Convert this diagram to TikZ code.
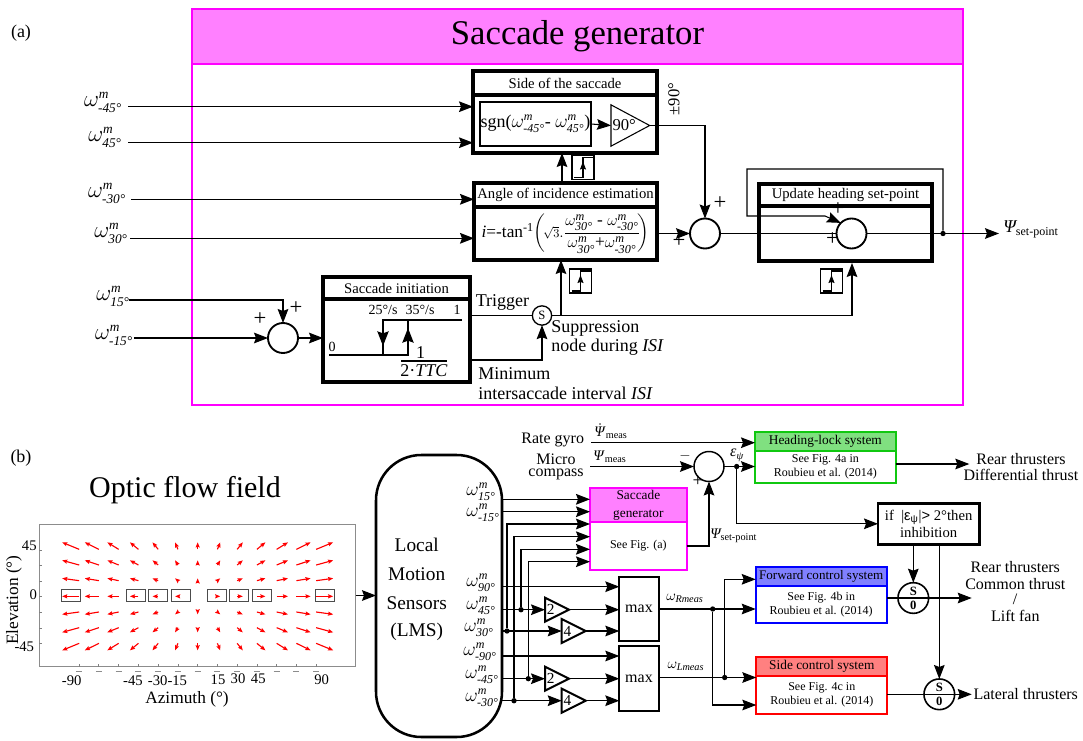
\documentclass[tikz,border=0pt]{standalone}
\usepackage{amsmath}
\usepackage{fontspec}
\setmainfont{Liberation Serif}
\setsansfont{Liberation Sans}
\usetikzlibrary{arrows.meta,shapes.geometric}
\DeclareMathSizes{16}{16}{10}{8}
\DeclareMathSizes{14}{14}{9}{7}
\DeclareMathSizes{13.5}{13.5}{9}{7}
\definecolor{framepink}{HTML}{FF00FF}
\definecolor{magentaband}{HTML}{FF80FF}
\definecolor{greenline}{HTML}{10C810}
\definecolor{greenband}{HTML}{80E080}
\definecolor{blueband}{HTML}{8080FF}
\definecolor{redband}{HTML}{FF8080}
\newcommand{\fs}[1]{\fontsize{#1}{#1}\selectfont}
\newcommand{\wm}[1]{$\omega^{\textit{m}}_{\textit{#1}}$}
\tikzset{
  cbox/.style n args={4}{at={({(#1+#3)/2},{(#2+#4)/2})},minimum width={(#3-(#1))*0.75pt},minimum height={(#4-(#2))*0.75pt}},
  sig/.style={line width=0.8pt,-{Stealth[length=10.5pt,width=8pt,inset=1.5pt]}},
  wire/.style={line width=0.8pt},
  fitbox/.style={inner sep=0pt,outer sep=0pt,draw},
  blockbox/.style={fitbox,line width=2.4pt,font=\fs{11}},
  framebox/.style={fitbox,line width=2.2pt,draw=framepink},
  greenbox/.style={fitbox,line width=1.6pt,draw=greenline,font=\fs{9}\linespread{1.17}\selectfont,align=center},
  bluebox/.style={fitbox,line width=1.6pt,draw=blue,font=\fs{9}\linespread{1.17}\selectfont,align=center},
  redbox/.style={fitbox,line width=1.6pt,draw=red,font=\fs{9}\linespread{1.17}\selectfont,align=center},
  magbox/.style={fitbox,line width=1.6pt,draw=framepink,font=\fs{9},align=center},
  sumnode/.style={circle,draw,line width=1.4pt,inner sep=0pt,outer sep=0pt,minimum size=22.5pt},
  selnode/.style={circle,draw,line width=1.2pt,inner sep=0pt,outer sep=0pt,minimum size=23pt},
  dotnode/.style={circle,fill,inner sep=0pt,minimum size=4pt},
  gainnode/.style={isosceles triangle,isosceles triangle stretches,shape border rotate=0,draw,
    inner sep=0pt,outer sep=0pt,anchor=lower side},
  lab/.style={inner sep=0pt,font=\fs{13.5}},
  omlab/.style={inner sep=0pt,font=\fs{16}},
  omsmall/.style={inner sep=0pt,font=\fs{14}},
  plusmark/.style={inner sep=0pt,font=\fs{17}},
  ticklab/.style={inner sep=0pt,font=\fs{11}},
  flowarrow/.style={red,line width=0.85pt,-{Stealth[length=3.8pt,width=3pt,inset=0.5pt]}},
  stepicon/.pic={
    \draw[line width=1pt] (-11,-12) rectangle (11,12);
    \draw[line width=0.8pt] (-9,10) -- (0,10) -- (0,-10) -- (10,-10);
    \draw[line width=0.8pt,-{Stealth[length=6pt,width=4.5pt,inset=0.8pt]}] (0,6) -- (0,-6);
  }
}
\begin{document}
\begin{tikzpicture}[x=0.75pt,y=-0.75pt]
  \useasboundingbox (0,0) rectangle (1083,740);
  \node[lab] (tagA) at (21,33) {(a)};
  \node[lab] (tagB) at (21,458) {(b)};

  \node[framebox,cbox={192}{9}{963}{405}] (sacframe) {};
  \node[framebox,fill=magentaband,font=\fs{26},cbox={192}{9}{963}{64}] (sachead) {Saccade generator};

  \node[blockbox,cbox={473}{71}{657}{95}] (sidehead) {Side of the saccade};
  \node[blockbox,cbox={473}{95}{657}{153}] (sidebody) {};
  \node[fitbox,line width=1.3pt,font=\fs{13.5},cbox={480}{102}{591}{146}] (sgnbox) {sgn(\wm{-45°}- \wm{45°})};
  \node[gainnode,minimum width=31pt,minimum height=29pt,line width=0.8pt,font=\fs{12.5}] (gainside) at (611,125.5) {90°};
  \node[blockbox,cbox={474}{183}{657}{207}] (anglehead) {Angle of incidence estimation};
  \node[blockbox,cbox={474}{207}{657}{260},font=\fs{13}] (anglebody)
    {\textit{i}=-tan$^{\text{-1}}$$\left(\!\scriptstyle\sqrt{3}\textstyle.\dfrac{\omega^{\textit{m}}_{\textit{30°}}\text{ - }\omega^{\textit{m}}_{\textit{-30°}}}{\omega^{\textit{m}}_{\textit{30°}}\text{+}\omega^{\textit{m}}_{\textit{-30°}}}\!\right)$};
  \node[blockbox,cbox={323}{277}{470}{299}] (inithead) {Saccade initiation};
  \node[blockbox,cbox={323}{299}{470}{382}] (initbody) {};
  \node[blockbox,cbox={759}{184}{932}{206}] (updhead) {Update heading set-point};
  \node[blockbox,cbox={759}{206}{932}{261}] (updbody) {};

  \node[omlab] (omA) at (103,102) {\wm{-45°}};
  \node[omlab] (omB) at (105,137) {\wm{45°}};
  \node[omlab] (omC) at (107,193) {\wm{-30°}};
  \node[omlab] (omD) at (111,233) {\wm{30°}};
  \node[omlab] (omE) at (113,296) {\wm{15°}};
  \node[omlab] (omF) at (114,335) {\wm{-15°}};
  \coordinate (inA) at (128,106.7);
  \coordinate (inB) at (128,142.7);
  \coordinate (inC) at (131,199.3);
  \coordinate (inD) at (130,238.3);
  \coordinate (inE) at (129,300);
  \coordinate (inF) at (134,338);
  \draw[sig] (inA) -- (inA -| sidebody.west);
  \draw[sig] (inB) -- (inB -| sidebody.west);
  \draw[sig] (inC) -- (inC -| anglehead.west);
  \draw[sig] (inD) -- (inD -| anglebody.west);

  \node[sumnode] (sumI) at (283,338) {};
  \draw[sig] (inE) -| (sumI.north);
  \draw[sig] (inF) -- (sumI.west);
  \draw[sig] (sumI.east) -- (sumI.east -| initbody.west);
  \node[plusmark] (plusIa) at (296,308) {+};
  \node[plusmark] (plusIb) at (260,319) {+};

  \coordinate (hyLow) at (329,355);
  \coordinate (hyLowEnd) at (408,355);
  \coordinate (hyHigh) at (383,320);
  \coordinate (hyHighEnd) at (462,320);
  \coordinate (hyTop) at (408,320);
  \coordinate (hyBot) at (383,355);
  \draw[line width=1pt] (hyLow) -- (hyLowEnd) -- (hyTop);
  \draw[line width=1pt] (hyHighEnd) -- (hyHigh) -- (hyBot);
  \draw[line width=1pt,-{Stealth[length=11pt,width=8.5pt,inset=1.5pt]}] (hyHigh) -- (383,346);
  \draw[line width=1pt,-{Stealth[length=11pt,width=8.5pt,inset=1.5pt]}] (hyLowEnd) -- (408,328);
  \node[inner sep=0pt,font=\fs{10.5}] (lowth) at (383,310) {25°/s};
  \node[inner sep=0pt,font=\fs{10.5}] (highth) at (420,310) {35°/s};
  \node[inner sep=0pt,font=\fs{10.5}] (hyone) at (457,310) {1};
  \node[inner sep=0pt,font=\fs{10.5}] (hyzero) at (332,347) {0};
  \node[lab] (fracnum) at (420.5,353) {1};
  \coordinate (fracL) at (401,361);
  \coordinate (fracR) at (447,361);
  \draw[wire] (fracL) -- (fracR);
  \node[lab] (fracden) at (424,371) {2·\textit{TTC}};

  \node[circle,draw,line width=1pt,inner sep=0pt,outer sep=0pt,minimum size=14.5pt,font=\fs{9.5}] (trigS) at (542,315.5) {S};
  \coordinate (isiL) at (470,360);
  \draw[wire] (initbody.east |- trigS) -- (trigS.west);
  \draw[sig] (isiL) -| (trigS.south);
  \node[lab] (trigger) at (502.5,302) {Trigger};
  \node[lab,anchor=west] (suppr) at (551,328) {Suppression};
  \node[lab,anchor=west] (suppn) at (551,347) {node during \textit{ISI}};
  \node[lab,anchor=west] (minim) at (478,374) {Minimum};
  \node[lab,anchor=west] (isitxt) at (478,393) {intersaccade interval \textit{ISI}};

  \coordinate (anglin) at (561,260);
  \coordinate (updin) at (852,263);
  \coordinate (upA) at (562,183);
  \draw[sig] (anglin |- trigS) -- (anglin);
  \draw[sig] (trigS.east) -| (updin);
  \draw[sig] (upA) -- (upA |- sidebody.south);
  \pic (stepA) at (583,167.5) {stepicon};
  \pic (stepB) at (580.5,281) {stepicon};
  \pic (stepC) at (831.5,281) {stepicon};

  \draw[sig] (sgnbox.east) -- (gainside.lower side);
  \node[sumnode] (sumA) at (705,233.5) {};
  \node[sumnode] (sumB) at (851.5,233.5) {};
  \draw[sig] (gainside.apex) -| (sumA.north);
  \draw[sig] (anglebody.east |- sumA) -- (sumA.west);
  \draw[wire] (sumA.east) -- (sumB.west);
  \coordinate (psiout) at (999,233.5);
  \node[dotnode] (fbdot) at (943,233.5) {};
  \draw[sig] (sumB.east) -- (psiout);
  \coordinate (fbtl) at (747,169);
  \coordinate (fbbl) at (747,216);
  \coordinate (fbbr) at (825,216);
  \draw[sig] (fbdot) |- (fbtl) -- (fbbl) -- (fbbr) -- (sumB.north west);
  \node[plusmark] (plusAa) at (720,203) {+};
  \node[plusmark] (plusAb) at (679,241.5) {+};
  \node[plusmark] (plusBa) at (838,209) {+};
  \node[plusmark] (plusBb) at (832.5,239) {+};
  \node[inner sep=0pt,font=\fs{12.5},rotate=90] (plusninety) at (674,99) {±90°};
  \node[anchor=west,inner sep=0pt,font=\fs{13.5}] (psisp) at (1003,229) {$\textit{Ψ}_{\text{set-point}}$};

  \node[inner sep=0pt,font=\fs{22.5}] (flowtitle) at (185,490) {Optic flow field};
  \node[fitbox,draw=black!45,line width=0.7pt,cbox={39.3}{524.3}{355.7}{666.7}] (flowplot) {};
  \foreach \i in {-6,...,6} {
    \foreach \j in {-3,...,3} {
      \pgfmathtruncatemacro{\nz}{abs(\i)+abs(\j)}
      \ifnum\nz>0
        \draw[flowarrow] ({(593+63.5*\i)/3-1.42*\i},{470+(379-50.5*\j)/3+1.17*\j}) -- ({(593+63.5*\i)/3+1.42*\i},{470+(379-50.5*\j)/3-1.17*\j});
      \fi
    }
  }
  \foreach \xa/\xb in {184/242,380/437,446/503,514/571,622/679,689/746,757/813,947/1003}
    \draw[black!70,line width=0.6pt] ({\xa/3},589.5) rectangle ({\xb/3},601);
  \foreach \j in {0,...,6}
    \draw[black!50,line width=0.5pt] (39.3,{470+(240+46.7*\j)/3}) -- (42,{470+(240+46.7*\j)/3});
  \foreach \i in {0,...,12} {
    \draw[black!50,line width=0.5pt] ({(237+59.3*\i)/3},666.7) -- ({(237+59.3*\i)/3},664);
    \draw[black!45,line width=0.5pt] ({(237+59.3*\i)/3-3},671.5) -- ({(237+59.3*\i)/3+3},671.5);
  }
  \foreach \xpos/\ypos/\txt/\nm in {71.7/680.7/-90/a,133/680.7/-45/b,157.7/680.7/-30/c,177.3/680.7/-15/d,218/679.3/15/e,238/678.3/30/f,258.3/678.3/45/g,321.7/680/90/h,29.3/545.7/45/i,33.3/594.3/0/j,24.3/646.7/-45/k}
    \node[ticklab] (tick\nm) at (\xpos,\ypos) {\txt};
  \node[inner sep=0pt,font=\fs{13},rotate=90] (elev) at (14,600) {Elevation (°)};
  \node[inner sep=0pt,font=\fs{13}] (azim) at (187,699) {Azimuth (°)};

  \node[fitbox,line width=1.9pt,rounded corners=34pt,cbox={376}{455}{502}{737}] (lms) {};
  \draw[sig] (flowplot.east) -- (flowplot.east -| lms.west);
  \node[inner sep=0pt,font=\fs{14.5}] (lmsa) at (416.7,545) {Local};
  \node[inner sep=0pt,font=\fs{14.5}] (lmsb) at (416.7,574) {Motion};
  \node[inner sep=0pt,font=\fs{14.5}] (lmsc) at (416.7,603) {Sensors};
  \node[inner sep=0pt,font=\fs{14.5}] (lmsd) at (416.7,632) {(LMS)};
  \node[omsmall] (omg) at (481,491.5) {\wm{15°}};
  \node[omsmall] (omh) at (483,513) {\wm{-15°}};
  \node[omsmall] (omi) at (481,583) {\wm{90°}};
  \node[omsmall] (omj) at (481,606) {\wm{45°}};
  \node[omsmall] (omk) at (479,628) {\wm{30°}};
  \node[omsmall] (oml) at (480,652) {\wm{-90°}};
  \node[omsmall] (omm) at (482,675) {\wm{-45°}};
  \node[omsmall] (omn) at (482,698) {\wm{-30°}};

  \node[magbox,fill=magentaband,font=\fontsize{10}{13.5}\selectfont,cbox={590}{488.3}{686.7}{521.7}] (gensmallhead) {Saccade\\generator};
  \node[magbox,cbox={590}{521.7}{686.7}{570}] (gensmallbody) {See Fig. (a)};
  \coordinate (sgin1) at (590,499.3);
  \coordinate (sgin2) at (590,511.7);
  \coordinate (sgin3) at (590,524);
  \coordinate (sgin4) at (590,536.7);
  \coordinate (sgin5) at (590,549.3);
  \coordinate (sgin6) at (590,561.7);
  \draw[sig] (lms.east |- sgin1) -- (sgin1);
  \draw[sig] (lms.east |- sgin2) -- (sgin2);

  \node[fitbox,line width=1.7pt,font=\fs{12},cbox={619.3}{576.7}{658.7}{641.3}] (maxR) {max};
  \node[fitbox,line width=1.7pt,font=\fs{12},cbox={619.3}{646}{658.7}{711}] (maxL) {max};
  \node[gainnode,minimum width=18pt,minimum height=18pt,line width=1.5pt,font=\fs{11.5}] (gainRa) at (545,609.7) {2};
  \node[gainnode,minimum width=18pt,minimum height=18pt,line width=1.5pt,font=\fs{11.5}] (gainRb) at (561.7,631) {4};
  \node[gainnode,minimum width=18pt,minimum height=18pt,line width=1.5pt,font=\fs{11.5}] (gainLa) at (545,678.7) {2};
  \node[gainnode,minimum width=18pt,minimum height=18pt,line width=1.5pt,font=\fs{11.5}] (gainLb) at (561.7,700.7) {4};
  \coordinate (inR) at (619.3,586.7);
  \coordinate (inL) at (619.3,656);
  \draw[sig] (lms.east |- inR) -- (inR);
  \draw[sig] (lms.east |- inL) -- (inL);
  \draw[sig] (lms.east |- gainRa.lower side) -- (gainRa.lower side);
  \draw[sig] (lms.east |- gainRb.lower side) -- (gainRb.lower side);
  \draw[sig] (lms.east |- gainLa.lower side) -- (gainLa.lower side);
  \draw[sig] (lms.east |- gainLb.lower side) -- (gainLb.lower side);
  \draw[sig] (gainRa.apex) -- (gainRa.apex -| maxR.west);
  \draw[sig] (gainRb.apex) -- (gainRb.apex -| maxR.west);
  \draw[sig] (gainLa.apex) -- (gainLa.apex -| maxL.west);
  \draw[sig] (gainLb.apex) -- (gainLb.apex -| maxL.west);
  \node[dotnode] (dotA) at (507,631) {};
  \node[dotnode] (dotB) at (514,700.7) {};
  \node[dotnode] (dotC) at (521,609.7) {};
  \node[dotnode] (dotD) at (528.3,678.7) {};
  \draw[sig] (dotA) |- (sgin3);
  \draw[sig] (dotB) |- (sgin4);
  \draw[sig] (dotC) |- (sgin5);
  \draw[sig] (dotD) |- (sgin6);

  \node[inner sep=0pt,font=\fs{12}] (rategyro) at (552.7,440) {Rate gyro};
  \node[inner sep=0pt,font=\fontsize{12}{9.5}\selectfont,align=center] (microcomp) at (556,467) {Micro\\compass};
  \node[inner sep=0pt,font=\fs{11}] (psidot) at (611,431) {$\dot{\text{\textit{Ψ}}}_{\text{meas}}$};
  \node[inner sep=0pt,font=\fs{11}] (psimeas) at (610,457) {$\text{\textit{Ψ}}_{\text{meas}}$};
  \node[sumnode,line width=1.1pt] (sumC) at (709,466.5) {};
  \node[greenbox,fill=greenband,font=\fs{10},cbox={755}{432.3}{895.7}{451}] (headhead) {Heading-lock system};
  \node[greenbox,cbox={755}{451}{895.7}{482.7}] (headbody) {See Fig. 4a in\\Roubieu et al. (2014)};
  \coordinate (gyroL) at (591,442.7);
  \coordinate (compL) at (590,466.5);
  \draw[sig] (gyroL) -- (gyroL -| headhead.west);
  \draw[sig] (compL) -- (sumC.west);
  \node[dotnode] (errdot) at (736.7,466.5) {};
  \draw[sig] (sumC.east) -- (sumC.east -| headbody.west);
  \node[inner sep=0pt,font=\fs{11}] (minusC) at (685,456) {$-$};
  \node[inner sep=0pt,font=\fs{14}] (plusC) at (698,481) {+};
  \node[inner sep=0pt,font=\fs{12}] (errlab) at (737,455.5) {$\textit{ε}_{\textit{ψ}}$};
  \coordinate (genout) at (686.7,546);
  \draw[sig] (genout) -| (sumC.south);
  \node[anchor=west,inner sep=0pt,font=\fs{11}] (psisp2) at (710,536) {$\textit{Ψ}_{\text{set-point}}$};

  \node[fitbox,line width=1.9pt,font=\fontsize{11}{12.5}\selectfont,align=center,cbox={878}{503.3}{979.3}{544.3}] (inhib)
    {if\ \ |{\sffamily ε\textsubscript{ψ}}|{\sffamily >} 2°then\\inhibition};
  \draw[sig] (errdot) |- (inhib.west);
  \node[selnode] (selA) at (913.3,598) {};
  \node[selnode] (selB) at (939.3,694.3) {};
  \node[inner sep=0pt,font=\bfseries\fs{9.5}] (selAs) at (913.3,591) {S};
  \node[inner sep=0pt,font=\bfseries\fs{9.5}] (selAz) at (913.3,605.5) {0};
  \node[inner sep=0pt,font=\bfseries\fs{9.5}] (selBs) at (939.3,687) {S};
  \node[inner sep=0pt,font=\bfseries\fs{9.5}] (selBz) at (939.3,701.5) {0};
  \draw[sig] (selA |- inhib.south) -- (selA.north);
  \draw[sig] (selB |- inhib.south) -- (selB.north);

  \node[bluebox,fill=blueband,font=\fs{9.8},cbox={755.7}{566.7}{886.7}{585.7}] (fwdhead) {Forward control system};
  \node[bluebox,cbox={755.7}{585.7}{886.7}{623.3}] (fwdbody) {See Fig. 4b in\\Roubieu et al. (2014)};
  \node[redbox,fill=redband,font=\fs{10},cbox={756.3}{656.7}{887.3}{676}] (sidectlhead) {Side control system};
  \node[redbox,cbox={756.3}{676}{887.3}{714.3}] (sidectlbody) {See Fig. 4c in\\Roubieu et al. (2014)};
  \node[dotnode] (dotR) at (712.7,609) {};
  \node[dotnode] (dotL) at (724.7,677.5) {};
  \coordinate (toSide) at (756.3,705);
  \coordinate (toFwd) at (755.7,579.3);
  \draw[sig] (maxR.east) -- (maxR.east -| fwdbody.west);
  \draw[sig] (maxL.east |- dotL) -- (dotL -| sidectlbody.west);
  \draw[sig] (dotR) |- (toSide);
  \draw[sig] (dotL) |- (toFwd);
  \node[inner sep=0pt,font=\fs{11}] (wrmeas) at (685,598.5) {$\omega_{\textit{Rmeas}}$};
  \node[inner sep=0pt,font=\fs{11}] (wlmeas) at (686,666) {$\omega_{\textit{Lmeas}}$};

  \coordinate (outHead) at (969.3,464);
  \coordinate (outFwd) at (971.7,598);
  \coordinate (outSide) at (971.7,694.3);
  \draw[sig] (headbody.east |- outHead) -- (outHead);
  \draw[sig] (fwdbody.east |- outFwd) -- (outFwd);
  \draw[sig] (sidectlbody.east |- outSide) -- (outSide);
  \node[inner sep=0pt,font=\fs{12}] (reara) at (1021,459) {Rear thrusters};
  \node[inner sep=0pt,font=\fs{12}] (diffth) at (1021,475) {Differential thrust};
  \node[inner sep=0pt,font=\fs{12}] (rearb) at (1015.3,567) {Rear thrusters};
  \node[inner sep=0pt,font=\fs{12}] (commth) at (1015.3,583.7) {Common thrust};
  \node[inner sep=0pt,font=\fs{12}] (slash) at (1015,599) {/};
  \node[inner sep=0pt,font=\fs{12}] (liftfan) at (1015.3,615.7) {Lift fan};
  \node[inner sep=0pt,font=\fs{12}] (latth) at (1025.7,693.7) {Lateral thrusters};
\end{tikzpicture}
\end{document}
